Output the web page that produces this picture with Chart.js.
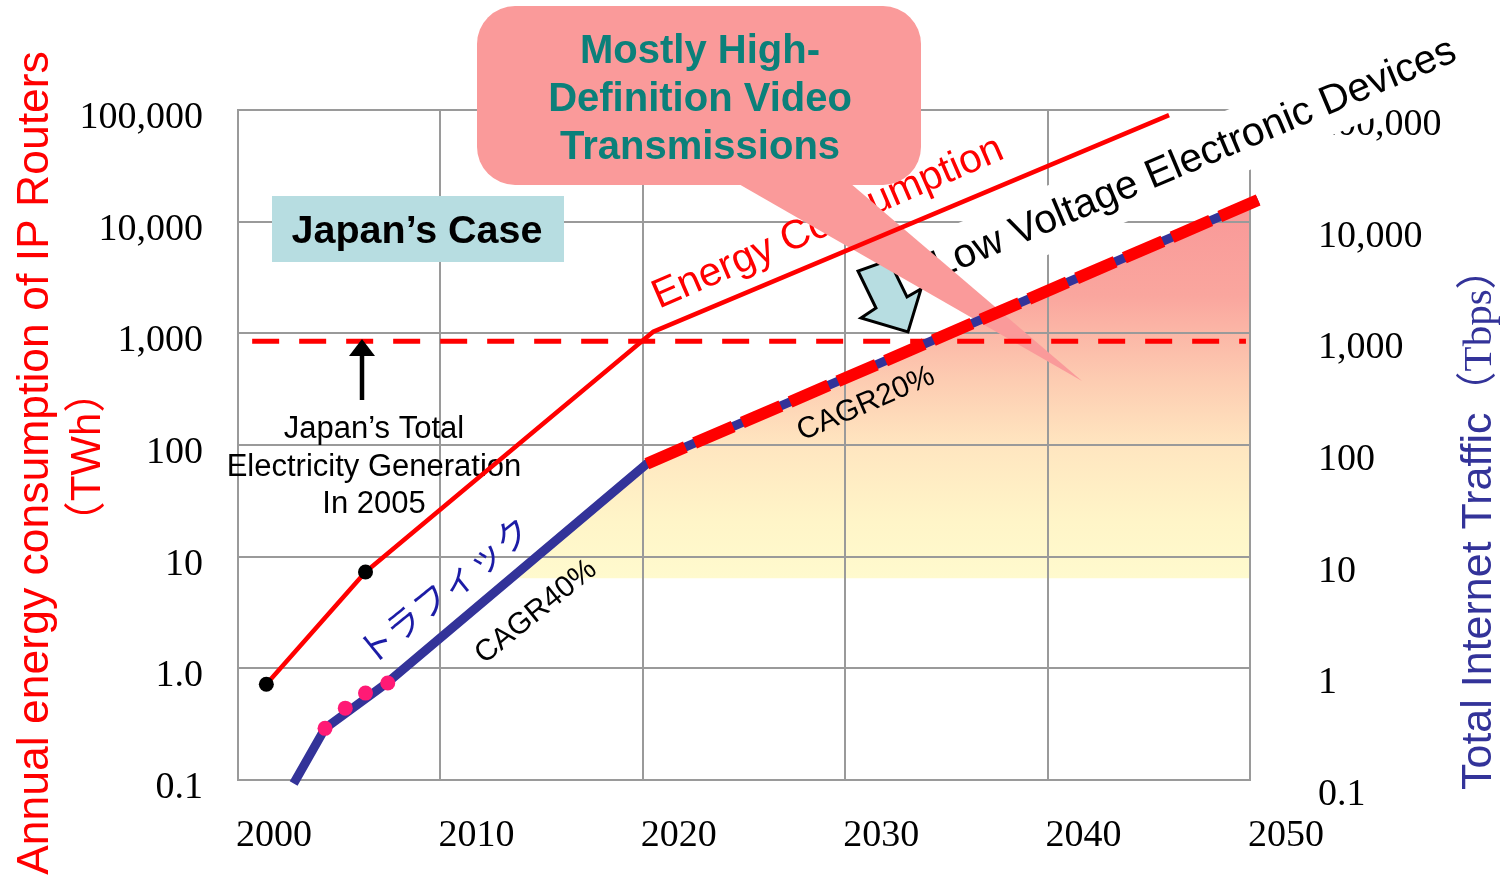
<!DOCTYPE html>
<html>
<head>
<meta charset="utf-8">
<title>IP router energy consumption and internet traffic in Japan</title>
<script src="https://cdn.jsdelivr.net/npm/chart.js@4/dist/chart.umd.min.js"></script>
<style>
  html, body { margin: 0; padding: 0; background: #ffffff; }
  canvas { display: block; }
</style>
</head>
<body>
<canvas id="chart" width="1503" height="879"></canvas>
<script>
// ---- axis ticks ----
const xTickValues = [2000, 2010, 2020, 2030, 2040, 2050];
const xTickLabels = ['2000', '2010', '2020', '2030', '2040', '2050'];
const yTickValues = [0.1, 1, 10, 100, 1000, 10000, 100000];
const energyTickLabels = ['0.1', '1.0', '10', '100', '1,000', '10,000', '100,000'];
const trafficTickLabels = ['0.1', '1', '10', '100', '1,000', '10,000', '100,000'];

// ---- annual energy consumption of IP routers (TWh) ----
const energyYears = [2001.4, 2006.3, 2020.5, 2046.0];
const energyTWh = [0.72, 7.3, 1030, 90000];
const energyMarkYears = [2001.4, 2006.3];
const energyMarkTWh = [0.72, 7.3];

// ---- Japan's total electricity generation in 2005 (TWh) ----
const generationYears = [2000.7, 2049.8];
const generationTWh = [850, 850];

// ---- total internet traffic (Tbps) ----
const trafficYears = [2002.75, 2004.3, 2007.4, 2020.2];
const trafficTbps = [0.093, 0.29, 0.75, 68];
const measuredYears = [2004.3, 2005.3, 2006.3, 2007.4];
const measuredTbps = [0.29, 0.44, 0.60, 0.74];
const forecastYears = [2020.2, 2050.4];
const forecastTbps = [68, 15600];

// shaded band below the traffic curve
const bandYears = [2013.45, 2020.2, 2050];
const bandTbps = [6.4, 68, 14500];
const bandFloor = 6.4;

const pts = (xs, ys) => xs.map((x, i) => ({ x: x, y: ys[i] }));

const RED = '#FF0000';
const NAVY = '#333399';
const GRID = '#9a9a9a';
const SANS = '"Liberation Sans", Arial, sans-serif';
const SERIF = '"Liberation Serif", "Times New Roman", serif';
const CJK = '"Noto Sans CJK JP"';

function bandGradient(context) {
  const chart = context.chart;
  if (!chart.chartArea) return '#FEE9C4';
  const s = chart.scales.y2;
  const top = s.getPixelForValue(15000);
  const bottom = s.getPixelForValue(bandFloor);
  const g = chart.ctx.createLinearGradient(0, top, 0, bottom);
  g.addColorStop(0.00, 'rgb(249,152,152)');
  g.addColorStop(0.25, 'rgb(250,166,158)');
  g.addColorStop(0.48, 'rgb(253,205,178)');
  g.addColorStop(0.65, 'rgb(255,230,192)');
  g.addColorStop(0.85, 'rgb(255,245,200)');
  g.addColorStop(1.00, 'rgb(255,250,206)');
  return g;
}

function rotatedText(ctx, text, x, y, deg, font, color, align, baseline) {
  ctx.save();
  ctx.translate(x, y);
  ctx.rotate(deg * Math.PI / 180);
  ctx.font = font;
  ctx.fillStyle = color;
  ctx.textAlign = align || 'center';
  ctx.textBaseline = baseline || 'middle';
  ctx.fillText(text, 0, 0);
  ctx.restore();
}

// Callouts, labels and axis titles drawn around the plotted series
const annotations = {
  id: 'annotations',
  beforeDatasetsDraw(chart) {
    const ctx = chart.ctx;
    ctx.save();

    // white band behind the rotated device label
    ctx.save();
    ctx.translate(1192, 159.5);
    ctx.rotate(-22.8 * Math.PI / 180);
    ctx.fillStyle = '#ffffff';
    ctx.fillRect(-300, -32, 600, 64);
    ctx.restore();
    rotatedText(ctx, 'Low Voltage Electronic Devices', 1194, 159, -22.8, '40.5px ' + SANS, '#000000');

    rotatedText(ctx, 'Energy Consumption', 828, 223, -23.5, '40.5px ' + SANS, RED);

    // Japan's Case box
    ctx.fillStyle = '#B7DDE1';
    ctx.fillRect(272, 196, 292, 66);
    ctx.fillStyle = '#000000';
    ctx.font = 'bold 39.5px ' + SANS;
    ctx.textAlign = 'center';
    ctx.textBaseline = 'alphabetic';
    ctx.fillText('Japan\u2019s Case', 417, 243);

    // generation note
    ctx.font = '31px ' + SANS;
    ctx.fillText('Japan\u2019s Total', 374, 438);
    ctx.fillText('Electricity Generation', 374, 475.5);
    ctx.fillText('In 2005', 374, 513);

    // down arrow toward the traffic curve
    ctx.beginPath();
    ctx.moveTo(858, 271);
    ctx.lineTo(876, 308);
    ctx.lineTo(861, 318);
    ctx.lineTo(908, 332);
    ctx.lineTo(921, 289);
    ctx.lineTo(907, 297);
    ctx.lineTo(889, 260);
    ctx.closePath();
    ctx.fillStyle = '#B7DDE1';
    ctx.fill();
    ctx.lineWidth = 3;
    ctx.lineJoin = 'miter';
    ctx.strokeStyle = '#000000';
    ctx.stroke();

    // callout bubble with tail
    ctx.fillStyle = '#FA9A9A';
    ctx.beginPath();
    ctx.roundRect(477, 6, 444, 179, 38);
    ctx.fill();
    ctx.beginPath();
    ctx.moveTo(737, 183);
    ctx.lineTo(1082, 381);
    ctx.lineTo(850, 183);
    ctx.closePath();
    ctx.fill();
    ctx.fillStyle = '#0B807A';
    ctx.font = 'bold 40px ' + SANS;
    ctx.textAlign = 'center';
    ctx.fillText('Mostly High-', 700, 63);
    ctx.fillText('Definition Video', 700, 111);
    ctx.fillText('Transmissions', 700, 159);

    // growth-rate labels
    rotatedText(ctx, 'CAGR20%', 866, 404, -23.5, '30px ' + SANS, '#000000');
    rotatedText(ctx, 'CAGR40%', 536, 612, -39, '30px ' + SANS, '#000000');
    rotatedText(ctx, '\u30C8\u30E9\u30D5\u30A3\u30C3\u30AF', 444, 590, -39, '35px ' + CJK, '#1C1CA6');

    ctx.restore();
  },
  afterDatasetsDraw(chart) {
    const ctx = chart.ctx;
    ctx.save();
    // arrow pointing at the generation line
    ctx.strokeStyle = '#000000';
    ctx.lineWidth = 4.5;
    ctx.beginPath();
    ctx.moveTo(362, 400);
    ctx.lineTo(362, 352);
    ctx.stroke();
    ctx.fillStyle = '#000000';
    ctx.beginPath();
    ctx.moveTo(349, 356);
    ctx.lineTo(375, 356);
    ctx.lineTo(362, 339);
    ctx.closePath();
    ctx.fill();
    ctx.restore();
  },
  afterDraw(chart) {
    const ctx = chart.ctx;
    // left axis title
    rotatedText(ctx, 'Annual energy consumption of IP Routers', 48, 463, -90, '44.5px ' + SANS, RED, 'center', 'alphabetic');
    rotatedText(ctx, '\uFF08TWh\uFF09', 100, 457, -90, '42px ' + SANS + ', ' + CJK, RED, 'center', 'alphabetic');
    // right axis title
    ctx.save();
    ctx.translate(1491, 790);
    ctx.rotate(-Math.PI / 2);
    ctx.fillStyle = NAVY;
    ctx.textAlign = 'left';
    ctx.textBaseline = 'alphabetic';
    ctx.font = '43px ' + SANS;
    const main = 'Total Internet Traffic';
    ctx.fillText(main, 0, 0);
    const w = ctx.measureText(main).width;
    ctx.font = '41px ' + SERIF + ', ' + CJK;
    ctx.fillText('\uFF08Tbps\uFF09', w, 0);
    ctx.restore();
  }
};

const tickFont = { family: SERIF, size: 38 };

function build() {
  new Chart(document.getElementById('chart'), {
    type: 'line',
    data: {
      datasets: [
        {
          label: 'band',
          data: pts(bandYears, bandTbps),
          yAxisID: 'y2',
          borderColor: 'rgba(0,0,0,0)',
          borderWidth: 0,
          pointRadius: 0,
          fill: { value: bandFloor },
          backgroundColor: bandGradient,
          order: 10
        },
        {
          label: 'Japan total generation 2005',
          data: pts(generationYears, generationTWh),
          yAxisID: 'y',
          borderColor: RED,
          borderWidth: 5,
          borderDash: [27, 20],
          borderCapStyle: 'butt',
          pointRadius: 0,
          fill: false,
          order: 9
        },
        {
          label: 'Energy consumption',
          data: pts(energyYears, energyTWh),
          yAxisID: 'y',
          borderColor: RED,
          borderWidth: 4.5,
          borderJoinStyle: 'round',
          pointRadius: 0,
          fill: false,
          order: 8
        },
        {
          label: 'Energy observed',
          data: pts(energyMarkYears, energyMarkTWh),
          yAxisID: 'y',
          showLine: false,
          pointRadius: 7.5,
          pointBackgroundColor: '#000000',
          pointBorderWidth: 0,
          order: 7
        },
        {
          label: 'Traffic',
          data: pts(trafficYears.concat(forecastYears.slice(1)), trafficTbps.concat(forecastTbps.slice(1))),
          yAxisID: 'y2',
          borderColor: NAVY,
          borderWidth: 9,
          borderJoinStyle: 'round',
          borderCapStyle: 'butt',
          pointRadius: 0,
          fill: false,
          clip: false,
          order: 6
        },
        {
          label: 'Traffic forecast',
          data: pts(forecastYears, forecastTbps),
          yAxisID: 'y2',
          borderColor: RED,
          borderWidth: 12,
          borderDash: [42, 10],
          borderCapStyle: 'butt',
          pointRadius: 0,
          fill: false,
          clip: false,
          order: 5
        },
        {
          label: 'Traffic measured',
          data: pts(measuredYears, measuredTbps),
          yAxisID: 'y2',
          showLine: false,
          pointRadius: 7.5,
          pointBackgroundColor: '#FF1A75',
          pointBorderWidth: 0,
          order: 4
        }
      ]
    },
    options: {
      responsive: false,
      devicePixelRatio: 1,
      animation: false,
      events: [],
      layout: { padding: { top: 110, left: 0, right: 0, bottom: 0 } },
      plugins: {
        legend: { display: false },
        tooltip: { enabled: false },
        filler: { drawTime: 'beforeDraw' }
      },
      scales: {
        x: {
          type: 'linear',
          min: 2000,
          max: 2050,
          afterBuildTicks: (s) => { s.ticks = xTickValues.map(v => ({ value: v })); },
          afterFit: (s) => { s.height = 99; },
          ticks: {
            callback: (v, i) => xTickLabels[i],
            font: tickFont,
            color: '#000000',
            padding: 33,
            labelOffset: 36,
            maxRotation: 0,
            autoSkip: false
          },
          grid: { color: GRID, lineWidth: 2, drawTicks: false },
          border: { color: GRID, width: 2 }
        },
        y: {
          type: 'logarithmic',
          position: 'left',
          min: 0.1,
          max: 100000,
          afterBuildTicks: (s) => { s.ticks = yTickValues.map(v => ({ value: v })); },
          afterFit: (s) => { s.width = 238; },
          ticks: {
            callback: (v, i) => energyTickLabels[i],
            font: tickFont,
            color: '#000000',
            padding: 35,
            labelOffset: 8,
            autoSkip: false
          },
          grid: { color: GRID, lineWidth: 2, drawTicks: false },
          border: { color: GRID, width: 2 }
        },
        y2: {
          type: 'logarithmic',
          position: 'right',
          min: 0.1,
          max: 100000,
          afterBuildTicks: (s) => { s.ticks = yTickValues.map(v => ({ value: v })); },
          afterFit: (s) => { s.width = 253; },
          ticks: {
            callback: (v, i) => trafficTickLabels[i],
            font: tickFont,
            color: '#000000',
            padding: 68,
            labelOffset: 15,
            autoSkip: false
          },
          grid: { display: false, drawTicks: false },
          border: { display: false }
        }
      }
    },
    plugins: [annotations]
  });
}

if (document.fonts && document.fonts.ready) {
  document.fonts.ready.then(build);
} else {
  build();
}
</script>
</body>
</html>
